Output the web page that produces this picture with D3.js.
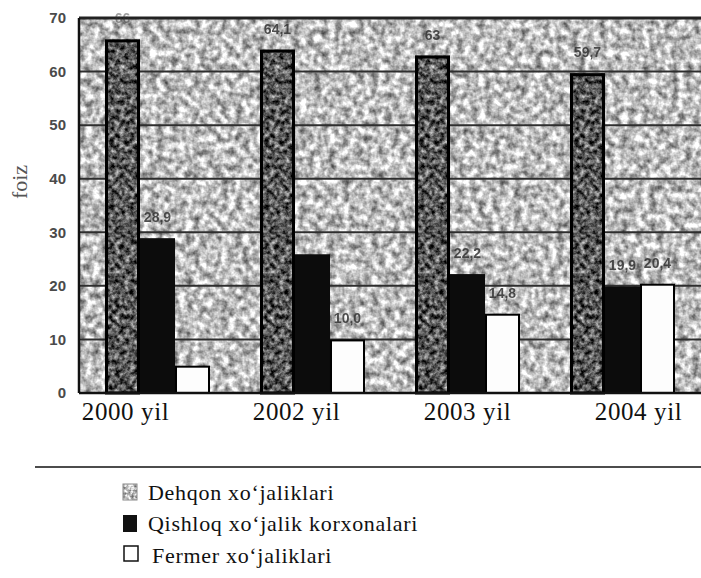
<!DOCTYPE html>
<html>
<head>
<meta charset="utf-8">
<script src="https://cdn.jsdelivr.net/npm/d3@7/dist/d3.min.js"></script>
<style>
  html, body { margin: 0; padding: 0; background: #fff; }
  svg { display: block; }
</style>
</head>
<body>
<svg id="chart" width="701" height="578"></svg>
<script>
// Share of agricultural output by producer type, percent
const years = ["2000 yil", "2002 yil", "2003 yil", "2004 yil"];
const seriesNames = ["Dehqon xo‘jaliklari", "Qishloq xo‘jalik korxonalari", "Fermer xo‘jaliklari"];
const dehqon = [66, 64.1, 63, 59.7];
const qishloq = [28.9, 25.9, 22.2, 19.9];
const fermer = [5.1, 10, 14.8, 20.4];
// printed value labels (null where no label is printed)
const dehqonLabels = ["66", "64,1", "63", "59,7"];
const qishloqLabels = ["28,9", null, "22,2", "19,9"];
const fermerLabels = [null, "10,0", "14,8", "20,4"];
const yTicks = [0, 10, 20, 30, 40, 50, 60, 70];
const yLabel = "foiz";

const SERIF = "'Liberation Serif', 'Times New Roman', serif";
const SANS = "'Liberation Sans', Arial, sans-serif";

const svg = d3.select("#chart");
const plotLeft = 79, plotRight = 701, plotTop = 18, plotBottom = 393;

const x = d3.scaleBand().domain(years).range([plotLeft, plotRight])
  .paddingInner(0.3226).paddingOuter(0.1677);
const xs = d3.scaleBand().domain(seriesNames).range([0, x.bandwidth()]);
const y = d3.scaleLinear().domain([0, 70]).range([plotBottom, plotTop]);
const xLabel = d3.scalePoint().domain(years).range([125, 638]);

const defs = svg.append("defs");
function grain(id, freq, k, b, seed) {
  const f = defs.append("filter").attr("id", id)
    .attr("x", 0).attr("y", 0).attr("width", 1).attr("height", 1)
    .attr("filterUnits", "objectBoundingBox")
    .attr("color-interpolation-filters", "sRGB");
  f.append("feTurbulence").attr("type", "fractalNoise")
    .attr("baseFrequency", freq).attr("numOctaves", 3).attr("seed", seed).attr("result", "n");
  f.append("feColorMatrix").attr("in", "n").attr("type", "matrix")
    .attr("values", `${k} 0 0 0 ${b}  ${k} 0 0 0 ${b}  ${k} 0 0 0 ${b}  0 0 0 0 1`)
    .attr("result", "g");
  f.append("feComposite").attr("in", "g").attr("in2", "SourceGraphic").attr("operator", "in");
}
grain("bgGrain", 0.14, 1.15, 0.17, 3);
grain("barGrain", 0.2, 1.3, -0.3, 7);
grain("keyGrain", 0.35, 1.1, 0.2, 5);

// textured plot background
svg.append("rect").attr("x", plotLeft).attr("y", plotTop)
  .attr("width", plotRight - plotLeft + 5).attr("height", plotBottom - plotTop)
  .attr("fill", "#bbb").attr("filter", "url(#bgGrain)");

// gridlines
svg.append("g").selectAll("line").data(yTicks.filter(t => t > 0 && t < 70)).join("line")
  .attr("x1", plotLeft).attr("x2", plotRight)
  .attr("y1", d => y(d)).attr("y2", d => y(d))
  .attr("stroke", "#2e2e2e").attr("stroke-width", 2);

// frame
svg.append("line").attr("x1", plotLeft).attr("x2", plotRight).attr("y1", plotTop).attr("y2", plotTop)
  .attr("stroke", "#222").attr("stroke-width", 3);
svg.append("line").attr("x1", plotLeft).attr("x2", plotLeft).attr("y1", plotTop).attr("y2", plotBottom)
  .attr("stroke", "#111").attr("stroke-width", 2.5);

const series = [
  { name: seriesNames[0], values: dehqon, labels: dehqonLabels },
  { name: seriesNames[1], values: qishloq, labels: qishloqLabels },
  { name: seriesNames[2], values: fermer, labels: fermerLabels }
];

const groups = svg.append("g").selectAll("g").data(years).join("g")
  .attr("transform", d => `translate(${x(d)},0)`);

groups.each(function(yr, i) {
  const g = d3.select(this);
  // Dehqon: dark grainy bar with black outline
  g.append("rect").attr("x", xs(seriesNames[0])).attr("y", y(dehqon[i]))
    .attr("width", xs.bandwidth()).attr("height", y(0) - y(dehqon[i]))
    .attr("fill", "#555").attr("filter", "url(#barGrain)");
  g.append("rect").attr("x", xs(seriesNames[0]) + 1.5).attr("y", y(dehqon[i]) + 1.5)
    .attr("width", xs.bandwidth() - 3).attr("height", y(0) - y(dehqon[i]) - 1.5)
    .attr("fill", "none").attr("stroke", "#000").attr("stroke-width", 3);
  // Qishloq: solid black
  g.append("rect").attr("x", xs(seriesNames[1])).attr("y", y(qishloq[i]))
    .attr("width", xs.bandwidth()).attr("height", y(0) - y(qishloq[i]))
    .attr("fill", "#0c0c0c");
  // Fermer: white with outline
  g.append("rect").attr("x", xs(seriesNames[2]) + 1).attr("y", y(fermer[i]) + 1)
    .attr("width", xs.bandwidth() - 2).attr("height", y(0) - y(fermer[i]) - 1)
    .attr("fill", "#fdfdfd").attr("stroke", "#000").attr("stroke-width", 2);

  series.forEach(s => {
    const lab = s.labels[i];
    if (!lab) return;
    g.append("text")
      .attr("x", xs(s.name) + xs.bandwidth() / 2)
      .attr("y", y(s.values[i]) - 16)
      .attr("text-anchor", "middle")
      .attr("font-family", SANS)
      .attr("font-weight", "bold").attr("font-size", 14)
      .attr("fill", "#333").attr("opacity", s.name === seriesNames[0] && i === 0 ? 0.45 : 0.85)
      .text(lab);
  });
});

// baseline
svg.append("line").attr("x1", plotLeft).attr("x2", plotRight).attr("y1", plotBottom).attr("y2", plotBottom)
  .attr("stroke", "#111").attr("stroke-width", 2.5);

// y axis labels
const yAxis = svg.append("g").attr("transform", `translate(${plotLeft},0)`)
  .call(d3.axisLeft(y).tickValues(yTicks).tickSize(0).tickPadding(13));
yAxis.select(".domain").remove();
yAxis.selectAll("text")
  .attr("font-family", SANS)
  .attr("font-weight", "bold").attr("font-size", 15).attr("fill", "#4a4a4a");

svg.append("text")
  .attr("transform", "translate(27,182) rotate(-90)")
  .attr("text-anchor", "middle")
  .attr("font-family", SERIF)
  .attr("font-size", 22).attr("fill", "#555")
  .text(yLabel);

// category labels
const xAxis = svg.append("g").attr("transform", `translate(0,${plotBottom})`)
  .call(d3.axisBottom(xLabel).tickSize(0).tickPadding(8));
xAxis.select(".domain").remove();
xAxis.selectAll("text")
  .attr("font-family", SERIF)
  .attr("font-size", 25).attr("letter-spacing", 0.6)
  .attr("fill", "#111").attr("dy", "0.75em");

// legend
svg.append("line").attr("x1", 35).attr("x2", 701).attr("y1", 467).attr("y2", 467)
  .attr("stroke", "#111").attr("stroke-width", 1.5);
const legendRows = [493, 524, 556];
const legend = svg.append("g").selectAll("g").data(seriesNames).join("g")
  .attr("transform", (d, i) => `translate(0,${legendRows[i]})`);
legend.each(function(name, i) {
  const g = d3.select(this);
  if (i === 0) {
    g.append("rect").attr("x", 123).attr("y", -9).attr("width", 14).attr("height", 16)
      .attr("fill", "#aaa").attr("filter", "url(#keyGrain)");
    g.append("rect").attr("x", 123).attr("y", -9).attr("width", 14).attr("height", 16)
      .attr("fill", "none").attr("stroke", "#888").attr("stroke-width", 1);
  } else if (i === 1) {
    g.append("rect").attr("x", 123).attr("y", -9).attr("width", 14).attr("height", 17)
      .attr("fill", "#111");
  } else {
    g.append("rect").attr("x", 124).attr("y", -10).attr("width", 14).attr("height", 15)
      .attr("fill", "#fff").attr("stroke", "#111").attr("stroke-width", 1.5);
  }
  g.append("text").attr("x", i === 2 ? 152 : 148).attr("y", 7)
    .attr("font-family", SERIF)
    .attr("font-size", 22).attr("letter-spacing", 0.7).attr("fill", "#111")
    .text(name);
});
</script>
</body>
</html>
